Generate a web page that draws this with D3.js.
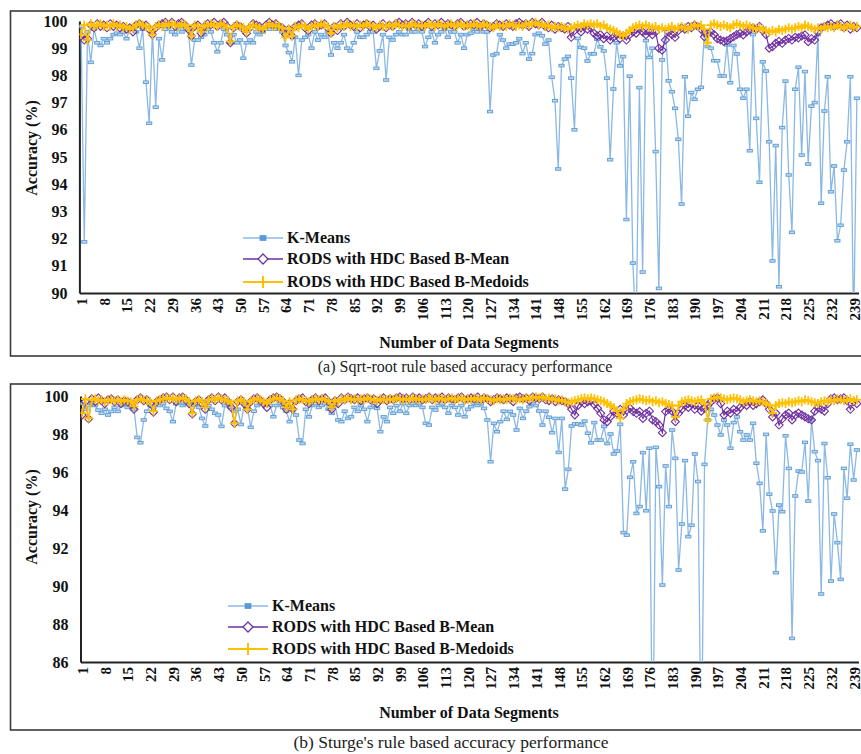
<!DOCTYPE html>
<html>
<head>
<meta charset="utf-8">
<script src="https://cdn.jsdelivr.net/npm/d3@7"></script>
<style>
  body { margin: 0; background: #fff; }
  svg { display: block; }
</style>
</head>
<body>
<script>
// ---- Categories and tick labels ----
const segments = d3.range(1, 241);
const xTickLabels = [1, 8, 15, 22, 29, 36, 43, 50, 57, 64, 71, 78, 85, 92, 99, 106, 113, 120, 127, 134,
  141, 148, 155, 162, 169, 176, 183, 190, 197, 204, 211, 218, 225, 232, 239];
const yTicksSqrt = [90, 91, 92, 93, 94, 95, 96, 97, 98, 99, 100];
const yTicksSturges = [86, 88, 90, 92, 94, 96, 98, 100];
const seriesNames = ["K-Means", "RODS with HDC Based B-Mean", "RODS with HDC Based B-Medoids"];

// ---- (a) Square-root rule: accuracy per data segment ----
const kmeansSqrt = [
  99.8, 91.88, 99.6, 98.48, 99.7, 99.2, 99.1, 99.35, 99.2, 99.35,
  99.5, 99.55, 99.5, 99.6, 99.35, 99.7, 99.8, 99.6, 99.0, 99.7,
  97.75, 96.24, 99.6, 96.83, 99.35, 98.57, 99.7, 99.8, 99.6, 99.5,
  99.7, 99.6, 99.8, 99.7, 98.38, 99.3, 99.3, 99.4, 99.5, 99.7,
  99.6, 99.2, 98.87, 99.2, 99.7, 99.5, 99.2, 99.5, 99.2, 99.3,
  98.63, 99.2, 99.3, 99.2, 99.6, 99.5, 99.6, 99.7, 99.7, 99.8,
  99.7, 99.8, 99.6, 99.1, 98.84, 98.5, 99.4, 98.0, 99.3, 99.4,
  99.5, 99.0, 99.6, 99.3, 99.5, 99.4, 99.6, 98.75, 99.2, 99.0,
  99.2, 99.5, 99.0, 98.9, 99.2, 99.6, 99.4, 99.4, 99.5, 99.6,
  99.6, 98.26, 98.9, 99.5, 97.83, 99.4, 99.3, 99.5, 99.6, 99.5,
  99.5, 99.7, 99.6, 99.6, 99.7, 99.6, 99.06, 99.4, 99.6, 99.2,
  99.5, 99.6, 99.7, 99.4, 99.6, 99.6, 99.2, 99.5, 99.0, 99.5,
  99.55, 99.7, 99.6, 99.7, 99.6, 99.6, 96.67, 98.75, 98.8, 99.5,
  99.3, 99.0, 99.15, 99.15, 99.2, 99.35, 98.8, 99.2, 98.6, 98.8,
  99.5, 99.55, 99.46, 99.15, 99.3, 97.93, 97.07, 94.56, 98.36, 98.6,
  98.7, 97.9, 96.0, 99.36, 99.03, 99.0, 98.53, 98.8, 98.79, 99.33,
  99.05, 98.9, 97.9, 94.9, 97.5, 99.2, 98.35, 98.69, 92.7, 97.97,
  91.1, 88.5, 97.55, 90.77, 99.28, 98.66, 99.0, 95.2, 90.17, 98.57,
  99.7, 97.8, 97.4, 96.79, 95.65, 93.27, 97.95, 96.5, 97.37, 97.12,
  97.49, 97.56, 99.5, 99.06, 99.0, 98.54, 98.54, 97.98, 97.98, 99.12,
  97.73, 99.1, 98.79, 97.49, 97.16, 97.49, 95.23, 99.5, 96.42, 94.07,
  98.5, 98.16, 95.56, 91.18, 95.42, 90.23, 96.08, 97.79, 94.34, 92.23,
  97.49, 98.3, 95.07, 98.14, 94.74, 96.87, 97.0, 99.5, 93.3, 96.69,
  97.95, 93.72, 94.67, 91.92, 92.49, 94.52, 95.56, 97.95, 88.5, 97.16
];
const bMeanSqrt = [
  99.45, 99.3, 99.35, 99.85, 99.75, 99.9, 99.8, 99.85, 99.75, 99.9,
  99.8, 99.85, 99.75, 99.8, 99.7, 99.75, 99.6, 99.85, 99.9, 99.8,
  99.85, 99.7, 99.5, 99.75, 99.85, 99.9, 99.95, 99.85, 99.95, 99.8,
  99.9, 99.95, 99.85, 99.7, 99.45, 99.8, 99.85, 99.55, 99.8, 99.9,
  99.85, 99.95, 99.8, 99.9, 99.95, 99.8, 99.2, 99.75, 99.85, 99.8,
  99.7, 99.55, 99.75, 99.9, 99.85, 99.8, 99.7, 99.85, 99.95, 99.85,
  99.9, 99.8, 99.75, 99.5, 99.7, 99.45, 99.8, 99.85, 99.9, 99.75,
  99.65, 99.85, 99.9, 99.8, 99.85, 99.9, 99.75, 99.55, 99.8, 99.65,
  99.9, 99.8, 99.95, 99.85, 99.8, 99.9, 99.75, 99.85, 99.9, 99.8,
  99.85, 99.7, 99.8, 99.9, 99.75, 99.85, 99.8, 99.9, 99.95, 99.85,
  99.9, 99.8, 99.95, 99.85, 99.9, 99.8, 99.85, 99.95, 99.8, 99.9,
  99.85, 99.95, 99.8, 99.9, 99.85, 99.8, 99.9, 99.95, 99.8, 99.85,
  99.9, 99.85, 99.95, 99.8, 99.9, 99.85, 99.75, 99.8, 99.9, 99.85,
  99.8, 99.9, 99.85, 99.8, 99.9, 99.95, 99.85, 99.9, 99.8, 99.95,
  99.9, 99.85, 99.95, 99.8, 99.75, 99.85, 99.7, 99.8, 99.75, 99.7,
  99.8, 99.4, 99.65, 99.75, 99.6, 99.8, 99.7, 99.75, 99.55, 99.45,
  99.5, 99.35, 99.45, 99.3, 99.4, 99.5, 99.35, 99.45, 99.3, 99.5,
  99.6, 99.55, 99.7, 99.6, 99.5, 99.6, 99.5, 99.6, 99.0, 98.93,
  99.3, 99.6, 99.5, 99.4, 99.65, 99.75, 99.7, 99.8, 99.75, 99.85,
  99.8, 99.7, 99.42, 99.55, 99.6, 99.5, 99.35, 99.3, 99.25, 99.27,
  99.35, 99.42, 99.5, 99.55, 99.49, 99.6, 99.67, 99.75, 99.7, 99.8,
  99.65, 99.5, 99.0, 99.05, 99.18, 99.25, 99.18, 99.3, 99.36, 99.3,
  99.4, 99.38, 99.45, 99.49, 99.24, 99.35, 99.3, 99.6, 99.75, 99.8,
  99.85, 99.9, 99.8, 99.85, 99.9, 99.75, 99.85, 99.7, 99.8, 99.75
];
const bMedoidsSqrt = [
  99.5, 99.85, 99.3, 99.9, 99.8, 99.85, 99.9, 99.8, 99.85, 99.8,
  99.9, 99.8, 99.85, 99.75, 99.8, 99.7, 99.75, 99.85, 99.9, 99.85,
  99.8, 99.75, 99.5, 99.8, 99.85, 99.8, 99.9, 99.85, 99.9, 99.85,
  99.8, 99.9, 99.85, 99.75, 99.45, 99.85, 99.8, 99.6, 99.85, 99.8,
  99.9, 99.85, 99.8, 99.9, 99.85, 99.75, 99.25, 99.8, 99.85, 99.8,
  99.75, 99.6, 99.8, 99.85, 99.8, 99.75, 99.7, 99.8, 99.9, 99.8,
  99.85, 99.8, 99.75, 99.4, 99.7, 99.45, 99.8, 99.75, 99.85, 99.8,
  99.7, 99.8, 99.85, 99.8, 99.9, 99.85, 99.8, 99.55, 99.8, 99.75,
  99.85, 99.8, 99.9, 99.8, 99.85, 99.8, 99.85, 99.8, 99.9, 99.85,
  99.8, 99.75, 99.85, 99.8, 99.8, 99.85, 99.8, 99.9, 99.85, 99.8,
  99.85, 99.8, 99.9, 99.85, 99.8, 99.85, 99.8, 99.9, 99.85, 99.8,
  99.9, 99.85, 99.8, 99.85, 99.9, 99.8, 99.85, 99.9, 99.8, 99.85,
  99.8, 99.9, 99.85, 99.8, 99.9, 99.85, 99.8, 99.75, 99.85, 99.8,
  99.85, 99.8, 99.9, 99.85, 99.8, 99.85, 99.8, 99.9, 99.85, 99.9,
  99.95, 99.85, 99.9, 99.8, 99.85, 99.75, 99.8, 99.75, 99.8, 99.75,
  99.7, 99.75, 99.8, 99.85, 99.8, 99.9, 99.85, 99.9, 99.85, 99.9,
  99.8, 99.85, 99.75, 99.7, 99.65, 99.6, 99.5, 99.45, 99.55, 99.65,
  99.75, 99.8, 99.85, 99.8, 99.85, 99.8, 99.75, 99.8, 99.7, 99.75,
  99.7, 99.75, 99.8, 99.7, 99.75, 99.8, 99.75, 99.7, 99.8, 99.85,
  99.8, 99.85, 99.7, 99.2, 99.85, 99.9, 99.85, 99.8, 99.85, 99.8,
  99.75, 99.85, 99.9, 99.85, 99.8, 99.85, 99.8, 99.75, 99.7, 99.75,
  99.7, 99.65, 99.6, 99.65, 99.6, 99.7, 99.65, 99.7, 99.75, 99.7,
  99.75, 99.8, 99.75, 99.85, 99.8, 99.75, 99.7, 99.75, 99.7, 99.8,
  99.75, 99.8, 99.75, 99.85, 99.8, 99.75, 99.8, 99.85, 99.75, 99.8
];

// ---- (b) Sturges' rule: accuracy per data segment ----
const kmeansSturges = [
  99.6, 99.3, 99.5, 99.6, 99.5, 99.26, 99.09, 99.3, 99.0, 99.19,
  99.4, 99.19, 99.5, 99.6, 99.4, 99.5, 99.3, 97.82, 97.54, 98.74,
  99.2, 99.5, 99.4, 99.6, 99.5, 99.6, 99.35, 99.19, 98.65, 99.6,
  99.7, 99.5, 99.6, 99.7, 99.5, 99.6, 99.4, 98.82, 98.42, 99.5,
  99.3, 99.09, 99.0, 98.4, 99.5, 99.6, 99.4, 99.19, 99.3, 98.5,
  99.6, 99.4, 98.35, 99.2, 99.5, 99.6, 99.7, 99.6, 99.5, 98.91,
  99.5, 99.6, 99.4, 99.2, 98.65, 99.3, 99.0, 97.68, 97.5, 99.3,
  98.9, 99.5, 99.6, 99.4, 99.5, 99.6, 99.3, 99.09, 99.5, 98.74,
  98.65, 99.2, 98.82, 98.91, 99.4, 99.19, 99.5, 99.3, 98.65, 99.4,
  99.5, 99.35, 98.12, 98.9, 98.65, 99.4, 99.09, 99.5, 99.19, 99.6,
  99.09, 99.5, 99.6, 99.5, 99.6, 99.4, 98.56, 98.47, 99.4, 99.26,
  99.5, 99.6, 99.4, 99.09, 99.5, 99.4, 99.0, 99.5, 98.91, 99.3,
  99.44, 99.6, 99.5, 99.6, 99.35, 98.74, 96.54, 98.56, 98.12, 98.65,
  99.2, 98.77, 99.19, 99.0, 98.21, 99.35, 98.82, 99.2, 99.44, 99.6,
  99.5, 99.21, 98.47, 99.2, 98.88, 98.07, 98.82, 97.03, 98.82, 95.1,
  96.14, 98.42, 98.53, 98.53, 98.47, 98.68, 98.04, 97.54, 98.6, 97.68,
  97.68, 98.4, 97.5, 98.0, 96.95, 97.1, 98.51, 92.81, 92.68, 95.72,
  96.54, 93.82, 94.18, 97.02, 93.96, 97.25, 80.0, 97.3, 95.23, 90.05,
  96.32, 94.18, 98.21, 96.72, 90.84, 93.26, 96.6, 92.6, 93.2, 96.95,
  95.5, 80.0, 96.4, 98.74, 99.3, 99.0, 98.47, 97.95, 98.74, 98.47,
  97.25, 98.6, 98.9, 98.12, 97.68, 97.95, 97.68, 98.56, 96.46, 95.4,
  92.9, 97.98, 94.83, 93.95, 90.7, 94.26, 93.91, 97.91, 96.19, 87.24,
  94.74, 96.05, 96.0, 97.56, 94.47, 98.74, 97.07, 96.6, 89.58, 97.5,
  95.7, 90.26, 93.79, 92.28, 90.35, 96.19, 94.62, 97.46, 95.58, 97.16
];
const bMeanSturges = [
  99.0, 99.7, 98.8, 99.85, 99.7, 99.9, 99.75, 99.6, 99.8, 99.85,
  99.7, 99.8, 99.6, 99.75, 99.7, 99.6, 99.3, 99.8, 99.9, 99.75,
  99.8, 99.6, 99.15, 99.7, 99.8, 99.9, 99.95, 99.8, 99.95, 99.7,
  99.9, 99.95, 99.8, 99.6, 99.05, 99.7, 99.8, 99.6, 99.3, 99.8,
  99.9, 99.75, 99.95, 99.8, 99.9, 99.7, 99.4, 98.56, 99.7, 99.8,
  99.6, 99.3, 99.7, 99.85, 99.9, 99.75, 99.6, 99.4, 99.8, 99.9,
  99.95, 99.85, 99.7, 99.3, 99.6, 99.3, 99.75, 99.85, 99.9, 99.7,
  99.6, 99.8, 99.9, 99.75, 99.85, 99.9, 99.7, 99.3, 99.75, 99.6,
  99.9, 99.8, 99.95, 99.85, 99.8, 99.9, 99.75, 99.85, 99.9, 99.8,
  99.85, 99.6, 99.8, 99.9, 99.75, 99.85, 99.8, 99.9, 99.95, 99.85,
  99.9, 99.8, 99.95, 99.85, 99.9, 99.8, 99.85, 99.95, 99.8, 99.9,
  99.85, 99.95, 99.8, 99.9, 99.85, 99.8, 99.9, 99.95, 99.8, 99.85,
  99.9, 99.85, 99.95, 99.8, 99.9, 99.85, 99.7, 99.8, 99.9, 99.85,
  99.8, 99.9, 99.85, 99.7, 99.9, 99.95, 99.85, 99.9, 99.75, 99.95,
  99.9, 99.85, 99.95, 99.8, 99.75, 99.85, 99.7, 99.8, 99.75, 99.7,
  99.6, 99.3, 99.0, 99.5, 99.7, 99.6, 99.7, 99.75, 99.55, 99.35,
  99.09, 98.74, 98.65, 98.91, 99.2, 99.09, 99.3, 99.0, 99.26, 99.35,
  99.18, 99.09, 99.18, 98.82, 99.09, 99.2, 98.74, 98.65, 98.47, 98.07,
  99.18, 99.3, 99.2, 98.65, 99.09, 99.3, 99.5, 99.4, 99.6, 99.3,
  99.5, 99.2, 99.35, 99.5, 99.7, 99.85, 99.9, 99.6, 99.0, 99.2,
  99.1, 99.3, 99.2, 99.4, 99.6, 99.5, 99.7, 99.5, 99.6, 99.7,
  99.8, 99.6, 99.3, 98.9, 99.1, 98.47, 98.8, 99.0, 99.1, 98.74,
  99.0, 99.1, 99.0, 98.9, 98.8, 98.74, 99.2, 99.4, 99.3, 99.2,
  99.6, 99.85, 99.9, 99.8, 99.85, 99.9, 99.75, 99.3, 99.7, 99.6
];
const bMedoidsSturges = [
  99.1, 99.85, 98.84, 99.8, 99.85, 99.75, 99.8, 99.7, 99.75, 99.8,
  99.75, 99.8, 99.7, 99.8, 99.75, 99.7, 99.45, 99.8, 99.85, 99.8,
  99.75, 99.7, 99.2, 99.75, 99.8, 99.85, 99.9, 99.85, 99.9, 99.8,
  99.85, 99.9, 99.85, 99.7, 99.1, 99.75, 99.8, 99.7, 99.4, 99.8,
  99.85, 99.8, 99.9, 99.85, 99.8, 99.75, 99.6, 98.56, 99.75, 99.8,
  99.7, 99.3, 99.75, 99.8, 99.85, 99.8, 99.7, 99.6, 99.8, 99.85,
  99.9, 99.85, 99.75, 99.4, 99.7, 99.3, 99.8, 99.85, 99.8, 99.75,
  99.7, 99.8, 99.85, 99.8, 99.85, 99.8, 99.75, 99.4, 99.75, 99.7,
  99.85, 99.8, 99.9, 99.8, 99.85, 99.8, 99.85, 99.8, 99.9, 99.85,
  99.8, 99.75, 99.85, 99.8, 99.8, 99.85, 99.8, 99.9, 99.85, 99.8,
  99.85, 99.8, 99.9, 99.85, 99.8, 99.85, 99.8, 99.9, 99.85, 99.8,
  99.9, 99.85, 99.8, 99.85, 99.9, 99.8, 99.85, 99.9, 99.8, 99.85,
  99.8, 99.9, 99.85, 99.8, 99.9, 99.85, 99.8, 99.75, 99.85, 99.8,
  99.85, 99.8, 99.9, 99.85, 99.8, 99.85, 99.8, 99.9, 99.85, 99.9,
  99.95, 99.9, 99.95, 99.85, 99.9, 99.8, 99.85, 99.75, 99.8, 99.7,
  99.65, 99.7, 99.75, 99.8, 99.85, 99.9, 99.85, 99.9, 99.85, 99.8,
  99.75, 99.7, 99.6, 99.5, 99.4, 99.2, 98.82, 99.3, 99.6, 99.7,
  99.75, 99.8, 99.85, 99.8, 99.75, 99.8, 99.7, 99.75, 99.65, 99.7,
  99.6, 99.55, 99.5, 98.9, 99.5, 99.7, 99.75, 99.8, 99.75, 99.7,
  99.75, 99.8, 99.6, 98.74, 99.85, 99.9, 99.95, 99.9, 99.85, 99.8,
  99.85, 99.9, 99.85, 99.8, 99.7, 99.75, 99.8, 99.75, 99.7, 99.75,
  99.7, 99.6, 99.5, 99.1, 99.5, 99.6, 99.65, 99.6, 99.7, 99.65,
  99.7, 99.75, 99.7, 99.8, 99.75, 99.7, 99.65, 99.6, 99.7, 99.75,
  99.7, 99.8, 99.75, 99.85, 99.8, 99.75, 99.8, 99.85, 99.75, 99.8
];

// ---- Drawing ----
const W = 861, H = 754;
const FONT = "'Liberation Serif','Times New Roman',Times,serif";
const COL = { km: "#5b9bd5", kmLine: "#8bb8e4", kmFill: "#bdd7ee", mean: "#7030a0", med: "#ffc000" };

const svg = d3.select("body").append("svg").attr("width", W).attr("height", H)
  .style("font-family", FONT);

const panels = [
  {
    id: "sqrt", frameTop: 11, frameBottom: 356,
    left: 79.4, right: 858.5, top: 21, bottom: 293,
    yMin: 90, yTicks: yTicksSqrt,
    series: [kmeansSqrt, bMeanSqrt, bMedoidsSqrt],
    legend: { x0: 243, x1: 283, tx: 287, rows: [238, 259, 282] },
    titleY: 348, caption: "(a) Sqrt-root rule based accuracy performance",
    capX: 465, capY: 372, capSize: 16,
    yTitleY: 148
  },
  {
    id: "sturges", frameTop: 384, frameBottom: 730,
    left: 80.5, right: 858.5, top: 396, bottom: 662,
    yMin: 86, yTicks: yTicksSturges,
    series: [kmeansSturges, bMeanSturges, bMedoidsSturges],
    legend: { x0: 228, x1: 268, tx: 272, rows: [606, 627, 649] },
    titleY: 718, caption: "(b) Sturge's rule based accuracy performance",
    capX: 451, capY: 748, capSize: 17.5,
    yTitleY: 517
  }
];

const diamond = r => `M0,${-r}L${r},0L0,${r}L${-r},0Z`;
const plus = r => `M${-r},0H${r}M0,${-r}V${r}`;

panels.forEach(p => {
  const g = svg.append("g");

  g.append("rect")
    .attr("x", 10.5).attr("y", p.frameTop)
    .attr("width", 860).attr("height", p.frameBottom - p.frameTop)
    .attr("fill", "none").attr("stroke", "#3a3a3a").attr("stroke-width", 1.6);

  const x = d3.scalePoint().domain(segments).range([p.left, p.right]).padding(0.5);
  const y = d3.scaleLinear().domain([p.yMin, 100]).range([p.bottom, p.top]);

  const clipId = "clip-" + p.id;
  svg.append("clipPath").attr("id", clipId).append("rect")
    .attr("x", p.left).attr("y", p.top - 14)
    .attr("width", p.right - p.left + 4).attr("height", p.bottom - p.top + 14);

  // y axis
  const yAxis = g.append("g").attr("transform", `translate(${p.left},0)`)
    .call(d3.axisLeft(y).tickValues(p.yTicks).tickSize(0).tickSizeOuter(0).tickPadding(12).tickFormat(d3.format("d")));
  yAxis.select(".domain").attr("stroke", "#222").attr("stroke-width", 2);
  yAxis.selectAll("text").attr("font-size", 16).attr("font-weight", "bold")
    .attr("fill", "#111").style("font-family", FONT);

  // x axis
  const xAxis = g.append("g").attr("transform", `translate(0,${p.bottom})`)
    .call(d3.axisBottom(x).tickValues(xTickLabels).tickSize(0).tickSizeOuter(0));
  xAxis.select(".domain").attr("stroke", "#222").attr("stroke-width", 2.2);
  xAxis.selectAll("text")
    .attr("transform", "rotate(-90)")
    .attr("text-anchor", "end")
    .attr("x", -5).attr("y", 0).attr("dy", "0.36em")
    .attr("font-size", 15).attr("font-weight", "bold")
    .attr("fill", "#111").style("font-family", FONT);

  const plot = g.append("g").attr("clip-path", `url(#${clipId})`);
  const line = d3.line().x((d, i) => x(segments[i])).y(d => y(d));

  // K-Means
  const km = p.series[0];
  plot.append("path").datum(km).attr("d", line)
    .attr("fill", "none").attr("stroke", COL.kmLine).attr("stroke-width", 1.3);
  plot.selectAll("rect.km").data(km).join("rect").attr("class", "km")
    .attr("x", (d, i) => x(segments[i]) - 2.6).attr("y", d => y(d) - 1.3)
    .attr("width", 5.2).attr("height", 2.6)
    .attr("fill", COL.kmFill).attr("stroke", COL.km).attr("stroke-width", 0.9);

  // B-Mean
  const bm = p.series[1];
  plot.append("path").datum(bm).attr("d", line)
    .attr("fill", "none").attr("stroke", COL.mean).attr("stroke-width", 1.2);
  plot.selectAll("path.bm").data(bm).join("path").attr("class", "bm")
    .attr("transform", (d, i) => `translate(${x(segments[i])},${y(d)})`)
    .attr("d", diamond(4))
    .attr("fill", "none").attr("stroke", COL.mean).attr("stroke-width", 1.1);

  // B-Medoids
  const bd = p.series[2];
  plot.append("path").datum(bd).attr("d", line)
    .attr("fill", "none").attr("stroke", COL.med).attr("stroke-width", 1.6);
  plot.selectAll("path.bd").data(bd).join("path").attr("class", "bd")
    .attr("transform", (d, i) => `translate(${x(segments[i])},${y(d)})`)
    .attr("d", plus(4.5))
    .attr("fill", "none").attr("stroke", COL.med).attr("stroke-width", 1.8);

  // legend
  const L = p.legend, mx = (L.x0 + L.x1) / 2;
  const lg = g.append("g");
  const styles = [
    { stroke: COL.kmLine, w: 1.6 },
    { stroke: COL.mean, w: 1.3 },
    { stroke: COL.med, w: 1.8 }
  ];
  seriesNames.forEach((name, k) => {
    const yy = L.rows[k];
    lg.append("line").attr("x1", L.x0).attr("x2", L.x1).attr("y1", yy).attr("y2", yy)
      .attr("stroke", styles[k].stroke).attr("stroke-width", styles[k].w);
    if (k === 0) {
      lg.append("rect").attr("x", mx - 3).attr("y", yy - 2.5).attr("width", 6).attr("height", 5)
        .attr("fill", COL.km).attr("stroke", COL.km).attr("stroke-width", 0.8);
    } else if (k === 1) {
      lg.append("path").attr("transform", `translate(${mx},${yy})`).attr("d", diamond(5))
        .attr("fill", "#fff").attr("stroke", COL.mean).attr("stroke-width", 1.3);
    } else {
      lg.append("path").attr("transform", `translate(${mx},${yy})`).attr("d", plus(6))
        .attr("fill", "none").attr("stroke", COL.med).attr("stroke-width", 2);
    }
    lg.append("text").attr("x", L.tx).attr("y", yy).attr("dy", "0.34em")
      .attr("font-size", 16).attr("font-weight", "bold").attr("fill", "#111").text(name);
  });

  // axis titles and caption
  g.append("text")
    .attr("transform", `translate(37,${p.yTitleY}) rotate(-90)`)
    .attr("text-anchor", "middle").attr("font-size", 16).attr("font-weight", "bold")
    .attr("fill", "#111").text("Accuracy (%)");
  g.append("text").attr("x", 469).attr("y", p.titleY)
    .attr("text-anchor", "middle").attr("font-size", 16).attr("font-weight", "bold")
    .attr("fill", "#111").text("Number of Data Segments");
  svg.append("text").attr("x", p.capX).attr("y", p.capY)
    .attr("text-anchor", "middle").attr("font-size", p.capSize).attr("fill", "#222").text(p.caption);
});
</script>
</body>
</html>
